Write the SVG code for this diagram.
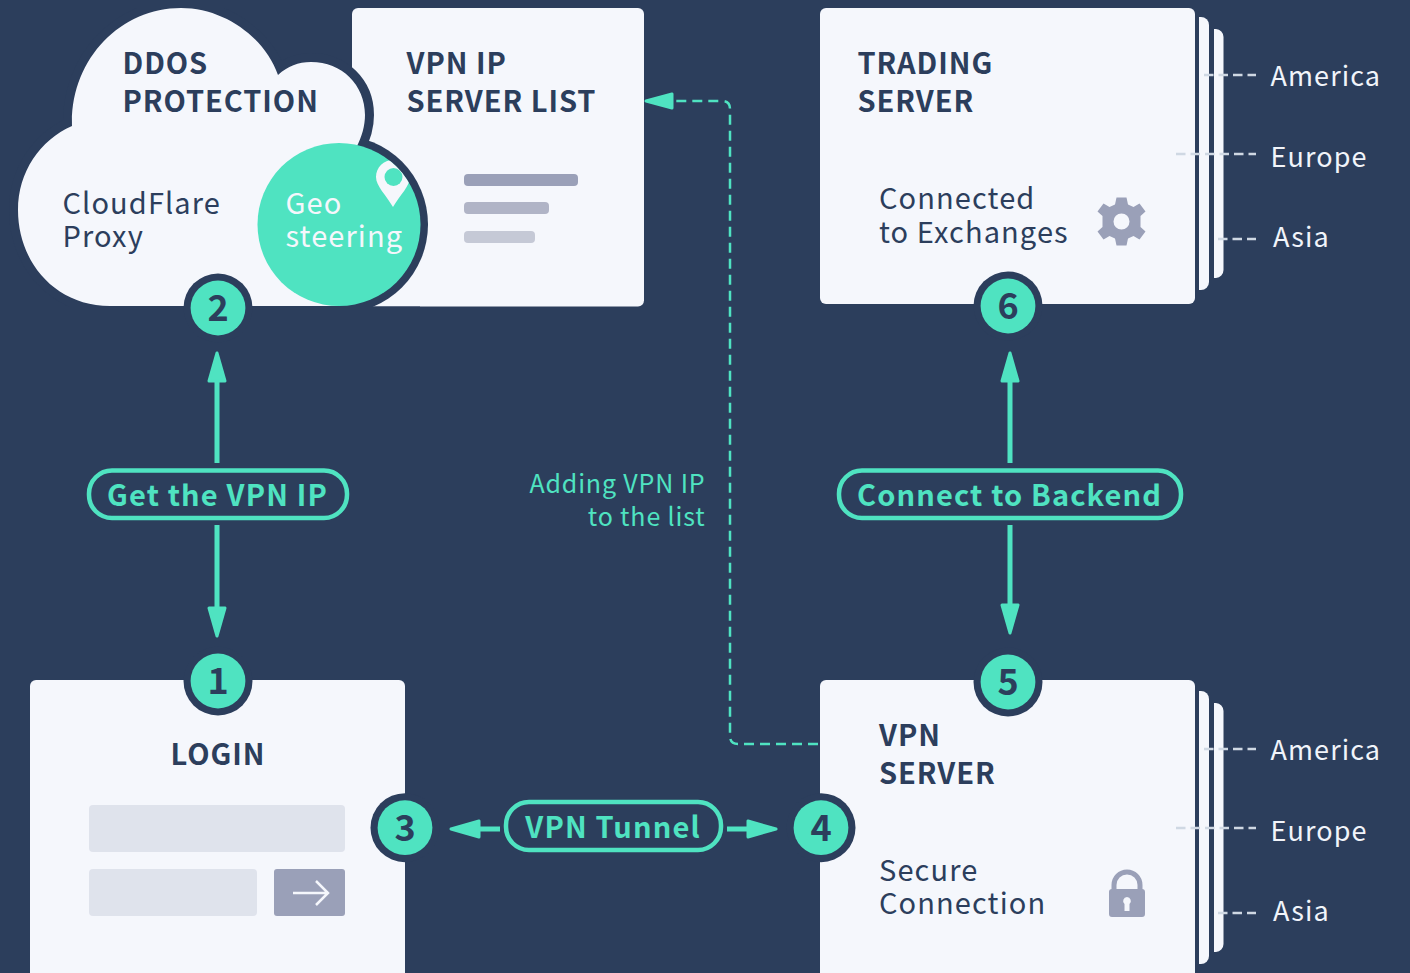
<svg xmlns="http://www.w3.org/2000/svg" width="1410" height="973" viewBox="0 0 1410 973">
<style>
text{font-family:"Noto Sans CJK SC","Noto Sans",sans-serif}
.card{fill:#f5f7fc}
.h{font-size:29px;font-weight:700;fill:#2c3e5c;letter-spacing:.95px}
.b{font-size:29px;font-weight:400;fill:#2c3e5c;letter-spacing:1.1px}
.w{font-size:29px;font-weight:400;fill:#f5f7fc;letter-spacing:1.1px}
.r{font-size:27px;fill:#f1f4fa;letter-spacing:1.1px}
.p{font-size:29px;font-weight:700;fill:#4fe3c1;letter-spacing:1.15px;text-anchor:middle}
.n{font-size:36px;font-weight:700;fill:#2c3e5c;text-anchor:middle}
.a{font-size:25px;fill:#4fe3c1;letter-spacing:.85px;text-anchor:end}
.halo{fill:#2c3e5c}
.disc{fill:#4fe3c1}
.pill{fill:none;stroke:#4fe3c1;stroke-width:4.5}
.ar{stroke:#4fe3c1;stroke-width:5;fill:none}
.hd{fill:#4fe3c1;stroke:#4fe3c1;stroke-width:3;stroke-linejoin:round}
.rd{stroke:#cfd8e3;stroke-width:2.5;stroke-dasharray:9.5 5;fill:none}
</style>
<defs>
<clipPath id="geoClip"><circle cx="339" cy="224.5" r="81.5"/></clipPath>
</defs>
<rect width="1410" height="973" fill="#2c3e5c"/>

<g id="vpn-ip-list">
<rect class="card" x="352" y="8" width="292" height="298.500" rx="6"/>
<text class="h" x="406.500" y="74">VPN IP</text>
<text class="h" x="406.500" y="112">SERVER LIST</text>
<rect x="464" y="174" width="114" height="12" rx="4" fill="#9aa0b8"/>
<rect x="464" y="202" width="85" height="12" rx="4" fill="#b0b4c6"/>
<rect x="464" y="231" width="71" height="12" rx="4" fill="#c5c9d6"/>
</g>

<g id="ddos-protection">
<circle class="halo" cx="339" cy="224.5" r="89"/>
<path class="card" stroke="#2c3e5c" stroke-width="18" paint-order="stroke" d="M72,126C70,60 120,8 181,8C225,8 265,38 278,75C288,66 298,62 311,62C342,62 365,85 365,115C365,125 362,137 356,148L340,306L110,306C55,306 18,262 18,210C18,172 40,140 72,126Z"/>
<rect x="0" y="306.500" width="420" height="14" fill="#2c3e5c"/>
<rect x="0" y="0" width="352" height="8" fill="#2c3e5c"/>
<text class="h" x="122.500" y="74">DDOS</text>
<text class="h" x="122.500" y="112">PROTECTION</text>
<text class="b" x="62.500" y="214">CloudFlare</text>
<text class="b" x="62.500" y="247">Proxy</text>
</g>

<g id="geo-steering">
<circle class="disc" cx="339" cy="224.5" r="81.5"/>
<g clip-path="url(#geoClip)">
<path fill="#f5f7fc" d="M393,207C386,195 376,186 376,177C376,167 384,160 393,160C402,160 410,167 410,177C410,186 400,195 393,207Z"/>
<circle class="disc" cx="393.500" cy="177" r="9"/>
</g>
<text class="w" x="285.500" y="214">Geo</text>
<text class="w" x="285.500" y="247">steering</text>
</g>

<g id="trading-server">
<path class="card" d="M1214,29H1216A8,8 0 0 1 1223.500,37V270A8,8 0 0 1 1216,278H1214Z"/>
<path class="card" d="M1199,17H1201A8,8 0 0 1 1209,25V282A8,8 0 0 1 1201,290H1199Z"/>
<rect class="card" x="820" y="8" width="375" height="296" rx="6"/>
<text class="h" x="857.500" y="74">TRADING</text>
<text class="h" x="857.500" y="112">SERVER</text>
<text class="b" x="879" y="209">Connected</text>
<text class="b" x="879" y="243">to Exchanges</text>
<g id="gear" transform="translate(1121.500 221.500)" fill="#9aa0b8">
<path fill-rule="evenodd" d="M-5,-24H5L6.500,-17L12,-14.500L18,-18L24,-10L19,-5.500V5.500L24,10L18,18L12,14.500L6.500,17L5,24H-5L-6.500,17L-12,14.500L-18,18L-24,10L-19,5.500V-5.500L-24,-10L-18,-18L-12,-14.500L-6.500,-17ZM8,0A8,8 0 1 0 -8,0A8,8 0 1 0 8,0Z"/>
</g>
<path class="rd" d="M1204,75H1256M1176,154H1256M1218,239H1256"/>
<text class="r" x="1270.500" y="86">America</text>
<text class="r" x="1270.500" y="167">Europe</text>
<text class="r" x="1273" y="247">Asia</text>
</g>

<g id="vpn-server">
<path class="card" d="M1214,703H1216A8,8 0 0 1 1223.500,711V944A8,8 0 0 1 1216,952H1214Z"/>
<path class="card" d="M1199,691H1201A8,8 0 0 1 1209,699V956A8,8 0 0 1 1201,964H1199Z"/>
<rect class="card" x="820" y="680" width="375" height="300" rx="6"/>
<text class="h" x="879" y="746">VPN</text>
<text class="h" x="879" y="784">SERVER</text>
<text class="b" x="879" y="881">Secure</text>
<text class="b" x="879" y="914">Connection</text>
<g id="lock" fill="#9aa0b8">
<path fill="none" stroke="#9aa0b8" stroke-width="5" d="M1114,892V885A13,13 0 0 1 1140,885V892"/>
<path fill-rule="evenodd" d="M1112,889H1142A3,3 0 0 1 1145,892V914A3,3 0 0 1 1142,917H1112A3,3 0 0 1 1109,914V892A3,3 0 0 1 1112,889ZM1127,897A4,4 0 0 0 1124.500,904V911H1129.500V904A4,4 0 0 0 1127,897Z"/>
</g>
<path class="rd" d="M1204,749H1256M1176,828H1256M1218,913H1256"/>
<text class="r" x="1270.500" y="760">America</text>
<text class="r" x="1270.500" y="841">Europe</text>
<text class="r" x="1273" y="921">Asia</text>
</g>

<g id="login">
<rect class="card" x="30" y="680" width="375" height="300" rx="6"/>
<text class="h" x="218" y="765" text-anchor="middle">LOGIN</text>
<rect x="89" y="805" width="256" height="47" rx="4" fill="#dfe3ec"/>
<rect x="89" y="869" width="168" height="47" rx="4" fill="#dfe3ec"/>
<rect x="274" y="869" width="71" height="47" rx="3" fill="#9aa0b8"/>
<path d="M293,893H328M316,881L328,893L316,905" fill="none" stroke="#f5f7fc" stroke-width="2.500"/>
</g>

<g id="connectors">
<path d="M818,744H738Q730,744 730,736V109Q730,101 722,101H668" fill="none" stroke="#4fe3c1" stroke-width="2.500" stroke-dasharray="10 6"/>
<path class="hd" d="M646,101L672,94V108Z"/>
<path class="ar" d="M217,463V378M217,525V612M1010,463V378M1010,525V610M500,829H476M727,829H752"/>
<path class="hd" d="M217,353L225,381H209Z"/>
<path class="hd" d="M217,636L225,608H209Z"/>
<path class="hd" d="M1010,353L1018,381H1002Z"/>
<path class="hd" d="M1010,633L1018,605H1002Z"/>
<path class="hd" d="M451,829L479,821V837Z"/>
<path class="hd" d="M776,829L748,821V837Z"/>
</g>

<g id="label-get-ip">
<rect class="pill" x="89" y="470.500" width="258" height="47.500" rx="23"/>
<text class="p" x="217.500" y="506">Get the VPN IP</text>
</g>
<g id="label-backend">
<rect class="pill" x="839" y="470.500" width="342" height="47.500" rx="23"/>
<text class="p" x="1009.500" y="506">Connect to Backend</text>
</g>
<g id="label-tunnel">
<rect class="pill" x="506" y="802" width="215" height="48" rx="23"/>
<text class="p" x="613" y="838">VPN Tunnel</text>
</g>
<g id="label-adding">
<text class="a" x="705.500" y="492.500">Adding VPN IP</text>
<text class="a" x="705.500" y="525.500">to the list</text>
</g>

<g id="step-1"><circle class="halo" cx="218" cy="681" r="34.500"/><circle class="disc" cx="218" cy="681" r="27.400"/><text class="n" x="218" y="694">1</text></g>
<g id="step-2"><circle class="halo" cx="218" cy="308" r="34.500"/><circle class="disc" cx="218" cy="308" r="27.400"/><text class="n" x="218" y="321">2</text></g>
<g id="step-3"><circle class="halo" cx="405" cy="827.700" r="34.500"/><circle class="disc" cx="405" cy="827.700" r="27.400"/><text class="n" x="405" y="841">3</text></g>
<g id="step-4"><circle class="halo" cx="821" cy="827.700" r="34.500"/><circle class="disc" cx="821" cy="827.700" r="27.400"/><text class="n" x="821" y="841">4</text></g>
<g id="step-5"><circle class="halo" cx="1008" cy="682" r="34.500"/><circle class="disc" cx="1008" cy="682" r="27.400"/><text class="n" x="1008" y="695">5</text></g>
<g id="step-6"><circle class="halo" cx="1008" cy="306" r="34.500"/><circle class="disc" cx="1008" cy="306" r="27.400"/><text class="n" x="1008" y="319">6</text></g>
</svg>
